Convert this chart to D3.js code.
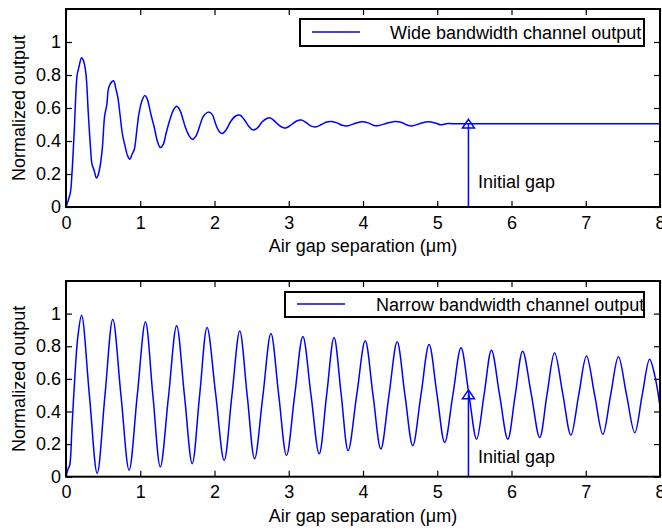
<!DOCTYPE html>
<html>
<head>
<meta charset="utf-8">
<script src="https://cdn.jsdelivr.net/npm/d3@7"></script>
<style>
  body { margin: 0; background: #fff; }
  svg { display: block; }
</style>
</head>
<body>
<svg id="chart" width="662" height="531"></svg>
<script>
// ---- data -------------------------------------------------------------
const xTicks = [0, 1, 2, 3, 4, 5, 6, 7, 8];
const yTicks = [0, 0.2, 0.4, 0.6, 0.8, 1];
const seriesNames = ["Wide bandwidth channel output", "Narrow bandwidth channel output"];

// wide bandwidth channel: damped fringe settling to the mid level
const wideX = [0, 0.03, 0.06, 0.08, 0.11, 0.15, 0.17, 0.21, 0.24, 0.27, 0.30, 0.33, 0.35, 0.38, 0.41, 0.43,
  0.46, 0.49, 0.52, 0.55, 0.58, 0.64, 0.67, 0.70, 0.73, 0.76, 0.79, 0.83, 0.86, 0.89, 0.92, 0.95, 0.98,
  1.02, 1.06, 1.09, 1.12, 1.15, 1.19, 1.23, 1.27, 1.31, 1.35, 1.40, 1.45, 1.49, 1.53, 1.57, 1.61, 1.66,
  1.70, 1.75, 1.80, 1.85, 1.92, 1.97, 2.01, 2.05, 2.10, 2.16, 2.22, 2.28, 2.34, 2.40, 2.46, 2.52, 2.58,
  2.64, 2.70, 2.75, 2.81, 2.87, 2.93, 2.97, 3.04, 3.10, 3.17, 3.24, 3.30, 3.37, 3.44, 3.51, 3.58, 3.65,
  3.72, 3.80, 3.88, 3.98, 4.07, 4.14, 4.20, 4.30, 4.43, 4.52, 4.60, 4.67, 4.78, 4.88, 4.98, 5.05, 5.12,
  5.20, 5.42, 8.00];
const wideY = [0, 0.04, 0.09, 0.20, 0.45, 0.80, 0.84, 0.905, 0.88, 0.80, 0.57, 0.36, 0.26, 0.22, 0.175, 0.19,
  0.25, 0.36, 0.55, 0.62, 0.73, 0.765, 0.72, 0.66, 0.55, 0.44, 0.38, 0.31, 0.29, 0.32, 0.35, 0.45, 0.56,
  0.64, 0.675, 0.66, 0.61, 0.55, 0.48, 0.40, 0.36, 0.38, 0.45, 0.53, 0.59, 0.61, 0.59, 0.54, 0.48, 0.43,
  0.41, 0.43, 0.49, 0.55, 0.575, 0.56, 0.51, 0.467, 0.445, 0.47, 0.52, 0.55, 0.557, 0.53, 0.49, 0.467, 0.48,
  0.515, 0.535, 0.54, 0.52, 0.495, 0.48, 0.48, 0.50, 0.52, 0.527, 0.51, 0.49, 0.486, 0.50, 0.515, 0.518, 0.51,
  0.495, 0.492, 0.505, 0.516, 0.51, 0.495, 0.492, 0.505, 0.518, 0.512, 0.495, 0.492, 0.508, 0.516, 0.508, 0.498, 0.505,
  0.505, 0.505, 0.505];

// narrow bandwidth channel: slowly decaying fringes
const narrowX = [0, 0.03, 0.05, 0.08, 0.12, 0.16, 0.21,
  0.315, 0.42, 0.525, 0.63, 0.74, 0.85, 0.96, 1.07, 1.17, 1.27, 1.38, 1.49, 1.595, 1.70, 1.80, 1.90,
  2.015, 2.13, 2.235, 2.34, 2.44, 2.54, 2.65, 2.76, 2.865, 2.97, 3.08, 3.19, 3.30, 3.41, 3.51, 3.61,
  3.705, 3.80, 3.915, 4.03, 4.135, 4.24, 4.35, 4.46, 4.565, 4.67, 4.78, 4.89, 4.995, 5.10, 5.21, 5.32,
  5.425, 5.53, 5.63, 5.73, 5.84, 5.95, 6.05, 6.15, 6.265, 6.38, 6.48, 6.58, 6.69, 6.80, 6.905, 7.01,
  7.12, 7.23, 7.335, 7.44, 7.55, 7.66, 7.76, 7.86, 7.93, 8.00];
const narrowY = [0, 0.05, 0.07, 0.30, 0.62, 0.86, 0.99,
  0.50, 0.02, 0.50, 0.965, 0.50, 0.04, 0.50, 0.95, 0.50, 0.06, 0.49, 0.925, 0.50, 0.08, 0.50, 0.915,
  0.51, 0.10, 0.50, 0.894, 0.50, 0.11, 0.49, 0.878, 0.50, 0.13, 0.50, 0.86, 0.50, 0.14, 0.50, 0.854,
  0.51, 0.16, 0.50, 0.833, 0.50, 0.17, 0.50, 0.827, 0.50, 0.19, 0.50, 0.81, 0.51, 0.21, 0.50, 0.79,
  0.51, 0.23, 0.50, 0.776, 0.50, 0.23, 0.50, 0.77, 0.51, 0.24, 0.51, 0.76, 0.51, 0.255, 0.50, 0.74,
  0.50, 0.26, 0.50, 0.735, 0.50, 0.27, 0.50, 0.72, 0.62, 0.43];

const initialGap = 5.42;          // µm
const gapLevel = [0.505, 0.505];  // output level at the initial gap
const gapLabelY = [0.113, 0.084]; // label baseline, data units
const gapLabel = "Initial gap";
const xTitle = "Air gap separation (\u03bcm)";
const yTitle = "Normalized output";

// ---- layout -----------------------------------------------------------
const W = 662, H = 531;
const left = 66, right = 660;
const FONT = "'Liberation Sans', Arial, Helvetica, sans-serif";
const BLUE = "#0000ff";

const panels = [
  { top: 9,   bottom: 207,   xs: wideX,   ys: wideY,   name: seriesNames[0],
    legend: { x0: 300, x1: 644, y0: 19,  y1: 46,  line0: 312, line1: 360, text: 390 } },
  { top: 281, bottom: 476.7, xs: narrowX, ys: narrowY, name: seriesNames[1],
    legend: { x0: 285, x1: 644, y0: 292, y1: 317, line0: 297, line1: 345, text: 376 } }
];

const svg = d3.select("#chart")
  .style("font-family", FONT)
  .style("font-size", "18px");
svg.append("rect").attr("width", W).attr("height", H).attr("fill", "#fff");

panels.forEach((p, i) => {
  const x = d3.scaleLinear().domain([0, 8]).range([left, right]);
  const y = d3.scaleLinear().domain([0, 1.2]).range([p.bottom, p.top]);
  const g = svg.append("g");

  const clipId = "clip" + i;
  g.append("clipPath").attr("id", clipId)
    .append("rect")
    .attr("x", left).attr("y", p.top)
    .attr("width", right - left).attr("height", p.bottom - p.top);

  // axes with inward ticks on all four sides
  const styleAxis = sel => {
    sel.select(".domain").remove();
    sel.attr("font-family", FONT).attr("font-size", 18);
    sel.selectAll(".tick line").attr("stroke", "#000").attr("stroke-width", 1.2);
    sel.selectAll(".tick text").attr("fill", "#000");
  };
  g.append("g").attr("transform", `translate(0,${p.bottom})`)
    .call(d3.axisBottom(x).tickValues(xTicks).tickSizeInner(-6).tickSizeOuter(0)
      .tickPadding(9).tickFormat(d3.format("d")))
    .call(styleAxis);
  g.append("g").attr("transform", `translate(0,${p.top})`)
    .call(d3.axisTop(x).tickValues(xTicks).tickSizeInner(-6).tickSizeOuter(0).tickFormat(""))
    .call(styleAxis);
  g.append("g").attr("transform", `translate(${left},0)`)
    .call(d3.axisLeft(y).tickValues(yTicks).tickSizeInner(-6).tickSizeOuter(0)
      .tickPadding(5).tickFormat(d3.format("~g")))
    .call(styleAxis);
  g.append("g").attr("transform", `translate(${right},0)`)
    .call(d3.axisRight(y).tickValues(yTicks).tickSizeInner(-6).tickSizeOuter(0).tickFormat(""))
    .call(styleAxis);

  // data line
  const pts = p.xs.map((v, k) => [v, p.ys[k]]);
  const line = d3.line().x(d => x(d[0])).y(d => y(d[1])).curve(d3.curveCatmullRom.alpha(0.5));
  g.append("path")
    .attr("clip-path", `url(#${clipId})`)
    .attr("d", line(pts))
    .attr("fill", "none").attr("stroke", BLUE).attr("stroke-width", 1.5)
    .attr("stroke-linejoin", "round");

  // initial gap marker
  g.append("line")
    .attr("x1", x(initialGap)).attr("x2", x(initialGap))
    .attr("y1", y(0)).attr("y2", y(gapLevel[i]))
    .attr("stroke", BLUE).attr("stroke-width", 1.5);
  const triangle = {
    draw(ctx, size) {
      const hw = Math.sqrt(size) / 2, hh = hw * 0.72;
      ctx.moveTo(0, -hh); ctx.lineTo(hw, hh); ctx.lineTo(-hw, hh); ctx.closePath();
    }
  };
  g.append("path")
    .attr("transform", `translate(${x(initialGap)},${y(gapLevel[i])})`)
    .attr("d", d3.symbol(triangle, 144)())
    .attr("fill", "none").attr("stroke", BLUE).attr("stroke-width", 1.5);
  g.append("text")
    .attr("x", x(5.55)).attr("y", y(gapLabelY[i]))
    .attr("fill", "#000").text(gapLabel);

  // frame
  g.append("rect")
    .attr("x", left).attr("y", p.top)
    .attr("width", right - left).attr("height", p.bottom - p.top)
    .attr("fill", "none").attr("stroke", "#000").attr("stroke-width", 2);

  // legend
  const L = p.legend;
  g.append("rect")
    .attr("x", L.x0).attr("y", L.y0).attr("width", L.x1 - L.x0).attr("height", L.y1 - L.y0)
    .attr("fill", "#fff").attr("stroke", "#000").attr("stroke-width", 2);
  const ly = (L.y0 + L.y1) / 2 - 0.5;
  g.append("line").attr("x1", L.line0).attr("x2", L.line1).attr("y1", ly).attr("y2", ly)
    .attr("stroke", BLUE).attr("stroke-width", 1.5);
  g.append("text").attr("x", L.text).attr("y", ly + 7).attr("fill", "#000").text(p.name);

  // axis titles
  g.append("text")
    .attr("x", (left + right) / 2).attr("y", p.bottom + 45)
    .attr("text-anchor", "middle").attr("fill", "#000").text(xTitle);
  g.append("text")
    .attr("transform", `translate(25,${(p.top + p.bottom) / 2}) rotate(-90)`)
    .attr("text-anchor", "middle").attr("fill", "#000").text(yTitle);
});
</script>
</body>
</html>
